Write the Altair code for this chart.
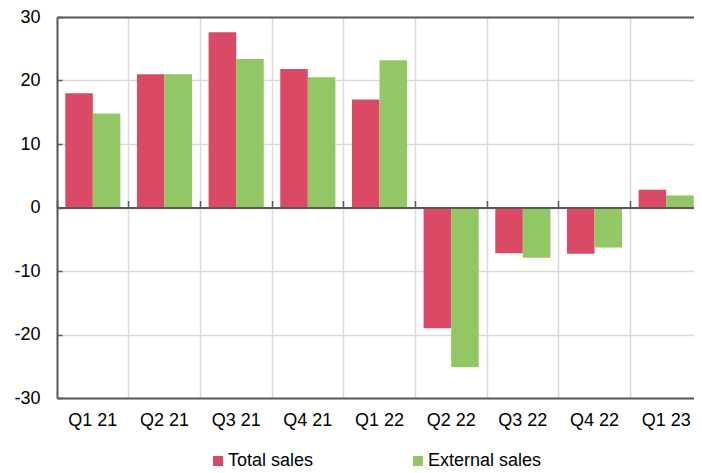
import altair as alt
import pandas as pd

quarters = ["Q1 21", "Q2 21", "Q3 21", "Q4 21", "Q1 22", "Q2 22", "Q3 22", "Q4 22", "Q1 23"]
total_sales = [18.0, 21.0, 27.6, 21.8, 17.0, -19.0, -7.2, -7.3, 2.8]
external_sales = [14.8, 21.0, 23.4, 20.5, 23.2, -25.1, -7.9, -6.3, 1.9]
series_names = ["Total sales", "External sales"]
series_colors = ["#DB4A65", "#93C765"]
y_ticks = [-30, -20, -10, 0, 10, 20, 30]

rows = []
for q, t, e in zip(quarters, total_sales, external_sales):
    rows.append({"quarter": q, "series": series_names[0], "value": t})
    rows.append({"quarter": q, "series": series_names[1], "value": e})
df = pd.DataFrame(rows)

W, H = 645, 381
FONT = "Liberation Sans"
DARK = "#595959"
GRID = "#D9D9D9"
YLABEL = "datum.value < 0 ? '-' + abs(datum.value) : '' + datum.value"

yscale = alt.Scale(domain=[-30, 30], nice=False, zero=False)
xscale = alt.Scale(paddingInner=0, paddingOuter=0)

base = alt.Chart(df)

bars = base.mark_bar().encode(
    x=alt.X("quarter:N", sort=quarters, scale=xscale, title=None,
            axis=alt.Axis(orient="bottom", ticks=False, tickSize=0, labelAngle=0,
                          labelFontSize=18, labelFont=FONT, labelColor="#000000",
                          labelPadding=13, domainColor=DARK, domainWidth=2, grid=False)),
    xOffset=alt.XOffset("series:N", sort=series_names,
                        scale=alt.Scale(paddingInner=0, paddingOuter=0.3)),
    y=alt.Y("value:Q", scale=yscale, title=None,
            axis=alt.Axis(values=y_ticks, ticks=False, tickSize=0, labelFontSize=18,
                          labelFont=FONT, labelColor="#000000", labelPadding=17,
                          labelExpr=YLABEL,
                          domainColor=DARK, domainWidth=2, grid=True, gridColor=GRID,
                          gridWidth=1.5)),
    color=alt.Color("series:N", sort=series_names,
                    scale=alt.Scale(domain=series_names, range=series_colors),
                    legend=alt.Legend(title=None, orient="none", direction="horizontal",
                                      legendX=152, legendY=435, symbolType="square",
                                      symbolSize=100, symbolStrokeWidth=0,
                                      labelFontSize=18, labelFont=FONT,
                                      labelColor="#000000", labelOffset=1,
                                      columnPadding=95)),
)

# top border with vertical gridlines at category boundaries
top_layer = base.mark_bar(opacity=0).encode(
    x=alt.X("quarter:N", sort=quarters, title=None,
            axis=alt.Axis(orient="top", labels=False, ticks=False, tickSize=0,
                          domainColor=DARK, domainWidth=2, grid=True, gridColor=GRID,
                          gridWidth=1.5, bandPosition=0)),
    y=alt.Y("value:Q", axis=None),
)

# zero line with small upward ticks at category boundaries
zero_layer = base.mark_bar(opacity=0).encode(
    x=alt.X("quarter:N", sort=quarters, title=None,
            axis=alt.Axis(orient="top", offset=-H / 2, labels=False, ticks=True,
                          tickSize=7, tickColor=DARK, tickWidth=1.5,
                          domainColor=DARK, domainWidth=2, grid=False,
                          bandPosition=0, zindex=1)),
    y=alt.Y("value:Q", axis=None),
)

# inward ticks on the left axis
ytick_layer = base.mark_bar(opacity=0).encode(
    x=alt.X("quarter:N", sort=quarters, axis=None),
    y=alt.Y("value:Q", title=None,
            axis=alt.Axis(orient="right", offset=-W, values=y_ticks, labels=False,
                          domain=False, ticks=True, tickSize=5, tickColor=DARK,
                          tickWidth=1.5, grid=False)),
)

chart = (
    alt.layer(top_layer, bars, zero_layer, ytick_layer)
    .resolve_axis(x="independent", y="independent")
    .properties(
        width=W,
        height=H,
        autosize=alt.AutoSizeParams(type="none"),
        padding={"left": 49, "top": 9, "right": -8, "bottom": 71},
    )
    .configure_view(stroke=None)
    .configure(background="white")
)

chart.save("out.html", embed_options={"renderer": "svg", "actions": False})
